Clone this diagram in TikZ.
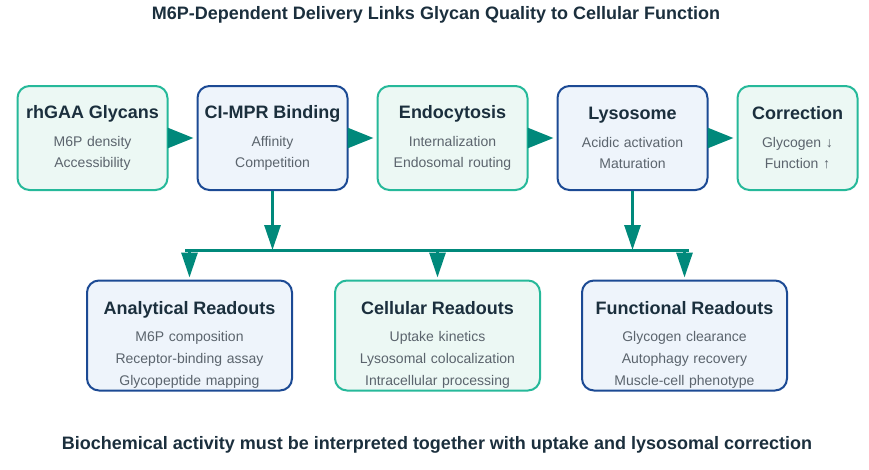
\documentclass[tikz,border=0pt]{standalone}
\usepackage{fontspec}
\setmainfont{Liberation Sans}
\usetikzlibrary{positioning, arrows.meta}
\definecolor{tealline}{HTML}{26B99A}
\definecolor{tealfill}{HTML}{ECF8F4}
\definecolor{navyline}{HTML}{1C4A94}
\definecolor{navyfill}{HTML}{EEF4FB}
\definecolor{flowteal}{HTML}{00897B}
\definecolor{headtext}{HTML}{1B2F3D}
\definecolor{subtext}{HTML}{5B646D}
\newcommand{\stagehead}[1]{{\color{headtext}\fontsize{18}{20}\selectfont\bfseries #1}}
\tikzset{
	x=1pt, y=-1pt, % one unit is one pixel of the picture, y runs downwards
	stage/.style={rounded corners=12pt, line width=2pt, inner sep=0pt, align=center,
		font=\fontsize{14}{21}\selectfont, text=subtext}, % common look of every box
	greenstage/.style={stage, draw=tealline, fill=tealfill},
	bluestage/.style={stage, draw=navyline, fill=navyfill},
	topstage/.style={minimum width=150pt, text width=146pt, minimum height=104pt},
	readout/.style={minimum width=205pt, text width=200pt, minimum height=110pt,
		font=\fontsize{14}{22}\selectfont},
	flow/.style={draw=flowteal, line width=3pt, -{Triangle[length=26pt,width=20pt]}, shorten >=3pt}, % big heads between the stages
	drop/.style={draw=flowteal, line width=3pt, -{Triangle[length=25pt,width=16pt]}}, % arrows down to the bus and the readouts
	node distance=28pt,
}
\begin{document}
\begin{tikzpicture}
	\useasboundingbox (0,0) rectangle (869,469);
	\node[font=\fontsize{18}{20}\selectfont\bfseries, text=headtext] (title) at (436,15)
		{M6P-Dependent Delivery Links Glycan Quality to Cellular Function};

	\node[greenstage, topstage] (glycans) at (92.5,138) {\stagehead{rhGAA Glycans}\\[7pt] M6P density\\ Accessibility\\[5pt]};
	\node[bluestage, topstage, right=of glycans] (binding) {\stagehead{CI-MPR Binding}\\[7pt] Affinity\\ Competition\\[5pt]};
	\node[greenstage, topstage, right=of binding] (endo) {\stagehead{Endocytosis}\\[7pt] Internalization\\ Endosomal routing\\[5pt]};
	\node[bluestage, topstage, right=of endo] (lyso) {\stagehead{Lysosome}\\[7pt] Acidic activation\\ Maturation\\[5pt]};
	\node[greenstage, topstage, minimum width=120pt, text width=116pt, right=of lyso] (correct) {\stagehead{Correction}\\[7pt] Glycogen ↓\\ Function ↑\\[5pt]};

	\draw[flow] (glycans) -- (binding);
	\draw[flow] (binding) -- (endo);
	\draw[flow] (endo) -- (lyso);
	\draw[flow] (lyso) -- (correct);

	\node[bluestage, readout] (analytical) at (189.5,335.5) {\rule{0pt}{32pt}\stagehead{Analytical Readouts}\\[5pt] M6P composition\\ Receptor-binding assay\\ Glycopeptide mapping};
	\node[greenstage, readout, right=41pt of analytical] (cellular) {\rule{0pt}{32pt}\stagehead{Cellular Readouts}\\[5pt] Uptake kinetics\\ Lysosomal colocalization\\ Intracellular processing};
	\node[bluestage, readout, right=40pt of cellular] (functional) {\rule{0pt}{32pt}\stagehead{Functional Readouts}\\[5pt] Glycogen clearance\\ Autophagy recovery\\ Muscle-cell phenotype};

	% the bus that collects the two stages and feeds the readouts
	\coordinate (busleft) at (185,250);
	\coordinate (busright) at (689,250);
	\draw[draw=flowteal, line width=3pt] (busleft) -- (busright);
	\draw[drop] (binding) -- (binding.south |- busleft);
	\draw[drop] (lyso) -- (lyso.south |- busleft);
	\draw[drop, shorten >=2pt] (analytical.north |- busleft) -- (analytical);
	\draw[drop, shorten >=2pt] (cellular.north |- busleft) -- (cellular);
	\draw[drop, shorten >=2pt] (functional.north |- busleft) -- (functional);

	\node[font=\fontsize{18}{20}\selectfont\bfseries, text=headtext] (caption) at (437,445)
		{Biochemical activity must be interpreted together with uptake and lysosomal correction};
\end{tikzpicture}
\end{document}
